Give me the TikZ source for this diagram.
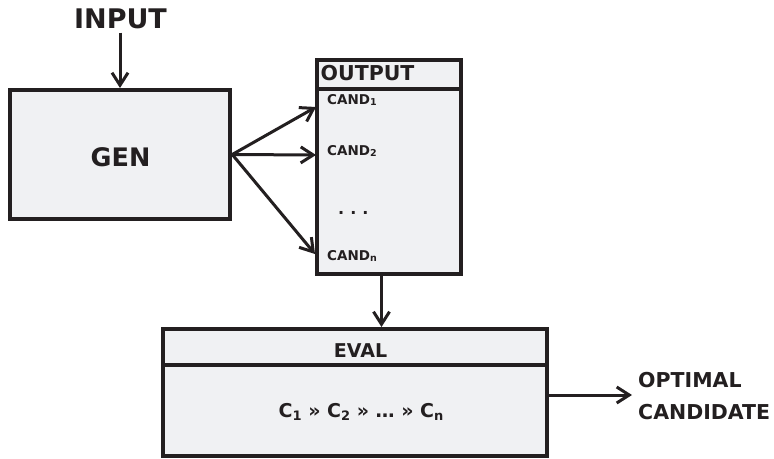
\documentclass[tikz,border=0pt]{standalone}
\usepackage{fontspec}
\setmainfont{DejaVu Sans}
\usetikzlibrary{arrows.meta,calc}
\definecolor{ink}{HTML}{231F20}
\definecolor{boxfill}{HTML}{F0F1F3}
\newcommand{\fsz}[1]{\fontsize{#1}{#1}\selectfont}
\newcommand{\subtxt}[3]{\raisebox{-#2pt}{\fsz{#1}#3}}
\begin{document}
\begin{tikzpicture}[x=1pt,y=-1pt, font=\bfseries,
  box/.style={draw=ink, fill=boxfill, line width=4pt, inner sep=0pt, rectangle},
  lbl/.style={inner sep=0pt, text=ink},
  arr/.style={draw=ink, line width=3pt, -{Straight Barb[length=12.5pt,width=16pt]}}]
\useasboundingbox (0,0) rectangle (774,458);

% GEN
\node[box, minimum width=220.5pt, minimum height=129pt] (gen) at (120,154.5) {};
\node[lbl, anchor=base, font=\bfseries\fsz{25.5}] (genlbl) at (120.5,166) {GEN};

% INPUT
\node[lbl, anchor=base, font=\bfseries\fsz{27}] (input) at (120.5,28) {INPUT};
\draw[arr] ([yshift=-4pt]input.south -| gen.north) -- (gen.north);

% OUTPUT
\node[box, minimum width=144pt, minimum height=28.5pt] (outhead) at (389,74.25) {};
\node[box, minimum width=144pt, minimum height=185.5pt] (outbody) at (389,181.25) {};
\node[lbl, anchor=base west, font=\bfseries\fsz{20.5}] (outlbl) at (320.5,80) {OUTPUT};
\node[lbl, anchor=base west, font=\bfseries\fsz{13.5}] (c1) at (327,104) {CAND\subtxt{9.5}{1.5}{1}};
\node[lbl, anchor=base west, font=\bfseries\fsz{13.5}] (c2) at (327,155) {CAND\subtxt{9.5}{1.5}{2}};
\node[lbl, anchor=base west, font=\bfseries\fsz{16}] (cdots) at (338,214) {.\hspace{6pt}.\hspace{6pt}.};
\node[lbl, anchor=base west, font=\bfseries\fsz{13.5}] (cn) at (327,260) {CAND\subtxt{9.5}{1.5}{n}};

\coordinate (t1) at (316,107);
\coordinate (t2) at (316,155);
\coordinate (t3) at (315,254);
\draw[arr] (gen.east) -- (t1);
\draw[arr] (gen.east) -- (t2);
\draw[arr] (gen.east) -- (t3);

% EVAL
\node[box, minimum width=384pt, minimum height=35.5pt] (evalhead) at (355,346.75) {};
\node[box, minimum width=384pt, minimum height=91.5pt] (evalbody) at (355,410.25) {};
\node[lbl, anchor=base, font=\bfseries\fsz{19}] (evallbl) at (360.5,357) {EVAL};
\node[lbl, anchor=base, font=\bfseries\fsz{19}] (rank) at (361,417)
  {C\subtxt{13}{3.5}{1} » C\subtxt{13}{3.5}{2} » … » C\subtxt{13}{3.5}{n}};

\coordinate (ax) at (381.5,0);
\draw[arr] (outbody.south -| ax) -- (evalhead.north -| ax);

% OPTIMAL CANDIDATE
\node[lbl, anchor=west, align=left, font=\bfseries\fontsize{20.5}{32}\selectfont] (opt) at (638,396.5) {OPTIMAL\\CANDIDATE};
\draw[arr] (evalbody.east |- 0,395) -- ([xshift=-6pt]opt.west |- 0,395);
\end{tikzpicture}
\end{document}
